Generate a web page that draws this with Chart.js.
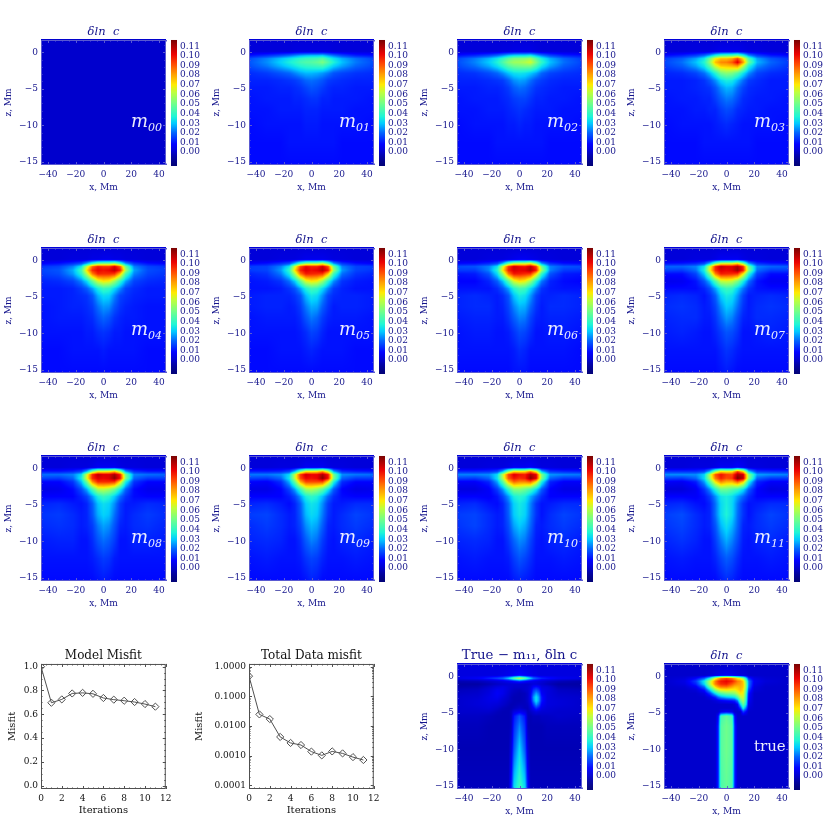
<!DOCTYPE html>
<html>
<head>
<meta charset="utf-8">
<script src="https://cdn.jsdelivr.net/npm/chart.js@4"></script>
<style>
  body { margin: 0; background: #fff; }
  canvas { position: absolute; }
</style>
</head>
<body>
<script>
// tick labels
const xTicks = [-40, -20, 0, 20, 40];
const zTicks = [0, -5, -10, -15];
const barTicks = [0, 0.01, 0.02, 0.03, 0.04, 0.05, 0.06, 0.07, 0.08, 0.09, 0.10, 0.11];
const iterTicks = [0, 2, 4, 6, 8, 10, 12];
const modelTicks = [0, 0.2, 0.4, 0.6, 0.8, 1.0];
const dataTicks = [0.0001, 0.001, 0.01, 0.1, 1];

// misfit curves
const iterations = [0, 1, 2, 3, 4, 5, 6, 7, 8, 9, 10, 11];
const modelMisfit = [1.0, 0.697, 0.725, 0.775, 0.78, 0.772, 0.737, 0.723, 0.714, 0.703, 0.686, 0.664];
const dataMisfit = [0.48, 0.0247, 0.0172, 0.0043, 0.0027, 0.0023, 0.00138, 0.00103, 0.0014, 0.0012, 0.0009, 0.00072];

// grid of the sampled maps (Mm), values below are delta ln c x 1000
const xCols = [-45, -32, -22, -16, -12, -8, -4, 0, 4, 8, 12, 16, 22, 32, 45];
const zRows = [1.6, 0, -0.6, -1, -1.5, -2, -3, -4, -5, -6.5, -8, -10, -12.5, -15.5];
const xColsTrue = [-45, -30, -22, -16, -12, -8, -6, -4, 0, 4, 6, 8, 10, 12, 14, 16, 20, 28, 45];
const zRowsTrue = [1.6, 0, -0.4, -0.8, -1.2, -1.6, -2, -2.5, -3, -3.5, -4, -4.5, -5, -5.6, -7, -10, -15.5];

const m00 = [
  0,0,0,0,0,0,0,0,0,0,0,0,0,0,0, 0,0,0,0,0,0,0,0,0,0,0,0,0,0,0, 0,0,0,0,0,0,0,0,0,0,0,0,0,0,0,
  0,0,0,0,0,0,0,0,0,0,0,0,0,0,0, 0,0,0,0,0,0,0,0,0,0,0,0,0,0,0, 0,0,0,0,0,0,0,0,0,0,0,0,0,0,0,
  0,0,0,0,0,0,0,0,0,0,0,0,0,0,0, 0,0,0,0,0,0,0,0,0,0,0,0,0,0,0, 0,0,0,0,0,0,0,0,0,0,0,0,0,0,0,
  0,0,0,0,0,0,0,0,0,0,0,0,0,0,0, 0,0,0,0,0,0,0,0,0,0,0,0,0,0,0, 0,0,0,0,0,0,0,0,0,0,0,0,0,0,0,
  0,0,0,0,0,0,0,0,0,0,0,0,0,0,0, 0,0,0,0,0,0,0,0,0,0,0,0,0,0,0
];
const m01 = [
  2,2,2,2,2,2,2,2,2,2,2,2,2,2,2,
  2,2,2,2,3,3,3,3,3,3,3,2,2,2,2,
  10,14,18,21,24,27,29,30,30,31,26,22,17,12,10,
  17,23,29,33,36,39,41,42,43,46,39,33,27,21,16,
  18,24,31,36,39,43,45,46,48,52,45,37,29,22,17,
  17,22,28,32,35,38,40,41,42,43,37,31,26,20,16,
  13,15,18,20,23,26,28,28,27,25,22,18,16,14,13,
  12,12,13,14,15,17,20,21,20,18,15,14,13,12,12,
  11,11,12,12,13,14,16,18,17,15,13,12,12,11,11,
  10,11,11,11,12,12,13,14,14,12,12,11,11,11,10,
  10,10,11,11,11,11,12,12,12,11,11,11,11,10,10,
  9,10,10,10,10,10,11,11,11,10,10,10,10,10,9,
  9,9,9,10,10,10,10,10,10,10,10,10,9,9,9,
  9,9,9,9,9,9,9,9,9,9,9,9,9,9,9
];
const m02 = [
  2,2,2,2,2,2,2,2,2,2,2,2,2,2,2,
  2,2,2,2,3,3,4,4,4,4,3,2,2,2,2,
  10,13,17,21,25,30,33,34,34,36,29,23,17,12,10,
  16,22,28,34,40,47,52,53,54,57,46,36,27,20,15,
  17,23,30,37,45,53,57,58,60,64,52,40,29,21,16,
  16,21,27,33,39,46,50,51,52,52,44,34,26,19,15,
  13,14,17,20,24,29,33,34,33,30,26,20,16,14,13,
  12,12,13,14,15,19,24,26,25,21,17,15,13,12,12,
  11,11,12,12,13,15,19,21,20,17,14,13,12,11,11,
  10,11,11,11,12,13,15,16,16,14,12,12,11,11,10,
  10,10,11,11,11,12,13,14,13,12,11,11,11,10,10,
  9,10,10,10,10,11,11,12,11,11,10,10,10,10,9,
  9,9,9,10,10,10,10,10,10,10,10,10,9,9,9,
  9,9,9,9,9,9,9,9,9,9,9,9,9,9,9
];
const m03 = [
  2,2,2,2,2,2,2,2,2,2,2,2,2,2,2,
  2,2,3,3,3,4,5,5,5,5,4,3,3,2,2,
  9,12,16,21,28,38,45,47,48,52,40,25,16,11,9,
  15,19,26,34,50,68,76,76,80,92,72,44,26,18,14,
  16,21,29,38,55,76,84,85,90,104,82,50,28,20,15,
  15,19,26,34,47,65,75,76,78,82,62,38,24,18,14,
  12,13,16,21,28,38,50,54,52,45,34,24,16,13,12,
  11,11,12,14,18,24,32,36,35,28,21,15,13,11,11,
  11,11,12,13,14,18,24,28,27,21,16,13,12,11,11,
  10,11,11,12,12,15,19,22,21,17,13,12,11,11,10,
  10,10,11,11,12,12,15,17,16,13,12,11,11,10,10,
  9,10,10,10,10,11,12,13,12,11,10,10,10,10,9,
  9,9,9,10,10,10,10,10,10,10,10,10,9,9,9,
  9,9,9,9,9,9,9,9,9,9,9,9,9,9,9
];
const m04 = [
  2,2,2,2,2,2,2,2,2,2,2,2,2,2,2,
  2,2,3,3,3,4,4,5,5,4,4,3,3,2,2,
  8,10,14,18,28,42,52,54,54,58,44,26,15,10,8,
  14,16,23,34,62,88,98,95,95,104,90,50,23,16,14,
  16,18,27,42,72,96,102,100,102,108,98,58,26,17,15,
  15,17,25,38,60,85,97,96,96,94,75,44,23,16,14,
  12,13,16,23,32,48,64,70,68,56,40,26,16,13,12,
  11,11,12,15,19,26,36,42,40,32,24,16,13,11,11,
  11,11,12,13,14,18,27,32,31,23,16,14,12,11,11,
  10,11,12,12,13,15,21,25,24,18,14,12,11,10,10,
  10,11,11,11,12,13,17,20,18,14,12,11,11,10,10,
  10,10,10,10,11,11,13,14,13,11,11,10,10,10,10,
  9,9,10,10,10,10,10,11,10,10,10,10,10,9,9,
  9,9,9,9,9,9,9,9,9,9,9,9,9,9,9
];
const m05 = [
  2,2,2,2,2,2,2,2,2,2,2,2,2,2,2,
  2,2,3,3,3,4,5,5,5,5,4,3,3,2,2,
  8,10,14,18,30,46,56,58,58,64,48,26,15,10,8,
  15,16,23,34,64,92,102,98,98,106,92,50,23,16,15,
  15,16,25,40,72,97,104,101,103,109,99,56,25,16,14,
  12,14,22,35,58,86,98,97,96,94,74,42,21,14,12,
  10,11,14,21,30,47,65,70,68,56,38,24,14,11,10,
  10,10,11,14,18,26,37,43,41,32,23,15,12,10,10,
  11,12,12,12,14,18,28,34,32,24,16,13,12,12,11,
  11,12,12,11,12,15,22,27,26,19,14,11,12,12,11,
  10,11,11,11,11,13,18,22,20,15,12,11,11,11,10,
  10,10,10,10,10,11,13,16,15,12,10,10,10,10,10,
  9,9,10,10,10,10,11,12,11,10,10,10,10,9,9,
  9,9,9,9,9,9,9,9,9,9,9,9,9,9,9
];
const m06 = [
  2,2,2,2,2,2,2,2,2,2,2,2,2,2,2,
  2,2,3,3,3,4,5,6,6,5,4,3,3,2,2,
  9,10,13,17,30,50,62,64,64,70,52,26,14,10,9,
  17,18,23,33,64,94,106,102,100,108,94,50,23,18,17,
  15,15,23,38,70,97,105,103,104,110,99,56,23,15,14,
  10,11,18,32,55,85,99,98,96,94,72,40,18,11,10,
  8,8,12,19,29,46,65,71,68,56,37,22,12,9,8,
  10,10,10,13,18,26,38,44,42,32,23,14,11,10,10,
  12,13,12,11,13,18,29,35,33,25,16,12,12,13,12,
  12,13,13,11,12,16,23,28,27,20,14,11,13,13,12,
  11,12,12,11,11,14,19,23,22,16,12,11,12,12,11,
  10,11,11,10,10,11,14,17,16,13,10,10,11,11,10,
  10,10,10,10,10,10,11,13,12,10,10,10,10,10,9,
  9,9,9,9,9,9,10,10,10,9,9,9,9,9,9
];
const m07 = [
  2,2,2,2,2,2,2,2,2,2,2,2,2,2,2,
  2,2,3,3,3,4,6,6,6,6,4,3,3,2,2,
  10,11,13,17,30,52,66,68,68,76,56,27,14,11,10,
  20,20,23,33,64,96,108,104,104,110,97,50,23,20,19,
  16,15,21,36,68,96,104,102,104,112,99,54,21,15,15,
  9,9,16,30,52,84,98,97,96,94,70,38,16,9,9,
  5,6,10,18,28,45,62,64,62,52,36,21,10,6,6,
  9,9,9,12,17,26,37,42,40,31,22,14,10,9,9,
  12,13,12,10,13,19,30,35,33,25,16,11,12,13,12,
  13,14,13,11,12,16,24,30,28,21,14,11,13,14,13,
  12,13,13,11,11,14,20,25,23,17,12,11,13,13,12,
  11,12,11,10,10,12,15,18,17,14,10,10,11,12,11,
  10,10,10,10,10,10,12,14,13,11,10,10,10,10,10,
  9,9,9,9,9,9,10,11,10,9,9,9,9,9,9
];
const m08 = [
  2,2,2,2,2,2,2,2,2,2,2,2,2,2,2,
  2,2,3,3,3,4,6,6,6,6,4,3,3,2,2,
  11,11,13,17,30,54,70,70,72,80,60,27,14,11,11,
  21,21,23,32,64,96,108,104,104,111,98,50,23,21,20,
  16,15,20,35,66,96,104,102,104,114,100,52,20,15,15,
  8,8,14,28,50,82,96,96,96,94,70,36,14,8,8,
  4,5,9,17,27,44,60,62,58,50,35,20,9,5,5,
  8,8,8,12,16,25,36,41,38,30,21,14,9,8,8,
  12,13,11,10,12,19,29,33,31,24,15,11,11,13,12,
  14,15,13,11,12,18,27,31,29,21,14,11,13,15,13,
  13,14,13,11,12,15,22,26,24,18,12,11,13,14,12,
  11,12,12,10,10,13,18,21,19,15,10,10,12,12,11,
  10,10,10,10,10,11,13,15,14,11,10,10,10,10,10,
  9,9,9,9,9,9,10,11,10,9,9,9,9,9,9
];
const m09 = [
  2,2,2,2,2,2,2,2,2,2,2,2,2,2,2,
  2,2,3,3,3,4,6,6,6,6,4,3,3,2,2,
  12,12,13,17,30,54,72,72,74,84,64,28,14,12,11,
  22,22,24,32,62,94,106,102,102,110,99,50,24,22,21,
  16,15,20,34,62,92,102,100,102,114,100,52,20,15,15,
  8,7,13,27,48,78,92,92,92,92,70,36,13,8,8,
  4,4,8,16,26,42,58,60,56,48,34,19,8,4,5,
  8,8,8,11,16,25,36,40,37,29,20,13,9,8,8,
  12,13,11,9,12,19,30,34,32,24,15,11,11,13,13,
  15,16,13,11,12,18,28,32,30,22,14,11,13,16,14,
  13,15,13,11,12,16,24,28,26,19,12,11,13,15,13,
  12,13,12,10,10,13,19,23,21,15,11,10,12,13,11,
  10,11,10,10,10,11,14,16,15,12,10,10,10,11,10,
  9,9,9,9,9,9,10,12,11,9,9,9,9,9,9
];
const m10 = [
  2,2,2,2,2,2,2,2,2,2,2,2,2,2,2,
  2,2,3,3,3,4,6,6,6,7,5,3,3,2,2,
  13,13,14,17,30,56,74,72,74,88,70,30,15,13,12,
  23,23,24,32,62,92,104,100,98,110,103,52,25,23,22,
  16,15,20,33,60,90,100,96,98,114,104,52,20,15,15,
  7,7,12,26,46,74,88,84,84,88,70,36,12,7,7,
  3,3,7,15,25,40,54,54,50,44,33,19,8,4,4,
  8,8,7,10,16,25,36,39,36,27,20,13,8,8,8,
  12,13,10,9,12,20,31,35,32,23,14,10,11,13,13,
  15,16,13,11,12,19,30,34,31,22,14,10,13,16,14,
  14,16,13,11,12,17,26,30,27,20,12,11,13,15,13,
  12,13,12,10,10,14,20,24,22,16,11,10,12,13,11,
  10,11,10,10,10,11,15,18,16,13,10,10,10,11,10,
  9,9,9,9,9,9,11,12,11,10,9,9,9,9,9
];
const m11 = [
  2,2,2,2,2,2,2,2,2,2,2,2,2,2,2,
  2,2,3,3,3,4,6,6,6,8,6,3,3,2,2,
  14,14,14,17,30,56,74,70,72,94,76,32,15,14,13,
  24,24,24,31,60,90,100,94,92,110,106,54,26,24,23,
  16,15,20,32,58,86,98,92,94,116,108,54,20,15,15,
  7,6,11,25,44,70,84,78,78,88,74,36,12,7,7,
  2,2,6,14,24,38,50,50,46,42,33,19,8,3,4,
  8,8,7,10,15,24,34,36,33,26,20,13,8,8,8,
  12,13,10,9,12,21,32,36,32,22,14,10,11,13,13,
  15,17,13,11,12,21,32,37,32,21,14,10,13,16,14,
  14,16,13,11,12,18,28,33,28,20,12,11,13,15,13,
  12,14,12,10,10,15,22,27,23,17,11,10,12,13,11,
  10,11,10,10,10,12,16,19,17,13,10,10,10,11,10,
  9,9,9,9,9,9,11,13,12,10,9,9,9,9,9
];
const trueMinus = [
  3,3,3,3,3,3,3,3,3,3,3,3,3,3,3,3,3,3,3,
  3,3,3,3,4,5,6,7,9,7,6,5,4,4,3,3,3,3,3,
  4,7,12,16,20,30,38,48,62,48,38,30,22,18,15,12,10,6,4,
  -3,-2,0,2,4,6,8,10,14,10,8,6,5,4,3,2,0,-2,-4,
  -5,-5,-3,-1,0,1,1,1,1,0,0,1,2,2,1,0,-2,-5,-5,
  -4,-3,0,3,4,2,1,0,0,0,1,3,8,10,8,3,2,-3,-4,
  -2,-1,2,6,5,2,0,-1,-2,0,1,4,13,17,13,5,3,-1,-2,
  -1,0,3,7,5,1,-1,-2,-3,-2,0,6,18,26,20,7,3,0,-1,
  0,1,4,6,3,0,-2,-3,-3,-2,0,7,24,33,25,10,3,1,0,
  0,2,4,4,1,-1,-2,-3,-3,-2,0,6,22,33,25,10,3,2,0,
  0,2,3,2,0,-2,-3,-3,-2,-2,-1,4,14,25,18,7,3,2,0,
  0,1,2,0,-2,-3,-3,-2,0,-2,-2,2,7,13,9,4,2,1,0,
  0,0,0,-2,-3,-3,-2,3,6,3,-2,-1,1,3,2,1,1,0,0,
  -1,-1,-2,-3,-3,-3,-2,10,18,10,-2,-3,-2,-2,-2,-1,-1,0,-1,
  -2,-2,-3,-3,-3,-3,-2,13,23,13,-2,-3,-3,-3,-3,-3,-2,-2,-2,
  -3,-3,-3,-3,-3,-3,2,18,31,18,2,-3,-3,-3,-3,-3,-3,-3,-3,
  -2,-2,-2,-2,-2,-2,10,32,42,32,10,-2,-2,-2,-2,-2,-2,-2,-2
];
const trueModel = [
  0,0,0,0,0,0,0,0,0,0,0,0,0,0,0,0,0,0,0,
  0,0,0,0,1,3,4,5,6,5,4,3,2,2,1,0,0,0,0,
  0,2,8,18,35,65,75,85,92,85,78,70,65,55,35,12,4,1,0,
  0,4,15,35,60,85,94,99,102,98,92,85,82,75,50,22,6,2,0,
  0,3,12,32,60,85,91,96,98,90,85,82,80,76,55,22,5,1,0,
  0,1,6,20,48,72,80,85,86,80,76,76,78,75,55,20,3,0,0,
  0,0,2,10,30,55,62,68,70,68,68,72,76,72,50,15,2,0,0,
  0,0,0,3,14,32,40,45,50,52,55,62,70,68,45,10,0,0,0,
  0,0,0,0,4,12,20,25,30,32,35,45,60,64,42,8,0,0,0,
  0,0,0,0,0,2,4,6,8,10,12,22,46,58,40,6,0,0,0,
  0,0,0,0,0,0,0,0,0,0,2,8,30,48,35,4,0,0,0,
  0,0,0,0,0,0,0,0,0,0,0,3,14,36,22,2,0,0,0,
  0,0,0,0,0,0,0,5,7,5,0,0,0,15,8,0,0,0,0,
  0,0,0,0,0,0,8,42,48,42,8,0,0,0,0,0,0,0,0,
  0,0,0,0,0,1,12,46,50,46,12,1,0,0,0,0,0,0,0,
  0,0,0,0,0,1,12,46,50,46,12,1,0,0,0,0,0,0,0,
  0,0,0,0,0,1,12,44,48,44,12,1,0,0,0,0,0,0,0
];

const navy = '#14148c';
const frameBlue = '#5a5ad2';
const gray = '#505050';
const serif = 'DejaVu Serif';

// value (x1000) -> colour
const colorStops = [
  [-13.5, 0, 0, 120], [-5, 0, 0, 165], [0, 0, 0, 205], [8, 0, 0, 255], [20, 0, 100, 255],
  [30, 0, 205, 255], [37, 30, 245, 215], [50, 110, 255, 140], [62, 190, 255, 60], [70, 255, 235, 0],
  [82, 255, 150, 0], [92, 255, 70, 0], [102, 235, 0, 0], [116.5, 120, 0, 0]
];

function colorFor(v) {
  if (v <= colorStops[0][0]) return colorStops[0].slice(1);
  for (let i = 1; i < colorStops.length; i++) {
    const b = colorStops[i];
    if (v <= b[0]) {
      const a = colorStops[i - 1];
      const t = (v - a[0]) / (b[0] - a[0]);
      return [a[1] + t * (b[1] - a[1]), a[2] + t * (b[2] - a[2]), a[3] + t * (b[3] - a[3])];
    }
  }
  return colorStops[colorStops.length - 1].slice(1);
}

function addCanvas(left, top, w, h) {
  const c = document.createElement('canvas');
  c.width = w;
  c.height = h;
  c.style.left = left + 'px';
  c.style.top = top + 'px';
  c.style.width = w + 'px';
  c.style.height = h + 'px';
  document.body.appendChild(c);
  return c.getContext('2d');
}

function findCell(list, v) {
  // list can run up or down
  for (let i = 0; i < list.length - 2; i++) {
    if ((v - list[i + 1]) * (list[1] - list[0]) <= 0) return i;
  }
  return list.length - 2;
}

function minorRange(from, to, step) {
  const out = [];
  for (let v = from; v <= to + 1e-9; v += step) out.push(v);
  return out;
}

function drawFrame(chart, color, major, minor) {
  const ctx = chart.ctx;
  const a = chart.chartArea;
  const sx = chart.scales.x;
  const sy = chart.scales.y;
  ctx.save();
  ctx.strokeStyle = color;
  ctx.lineWidth = 1;
  ctx.strokeRect(a.left + 0.5, a.top + 0.5, a.right - a.left - 1, a.bottom - a.top - 1);
  ctx.beginPath();
  const tick = (vals, len) => {
    vals.x.forEach(v => {
      const p = Math.round(sx.getPixelForValue(v)) + 0.5;
      ctx.moveTo(p, a.bottom); ctx.lineTo(p, a.bottom - len);
      ctx.moveTo(p, a.top); ctx.lineTo(p, a.top + len);
    });
    vals.y.forEach(v => {
      const p = Math.round(sy.getPixelForValue(v)) + 0.5;
      ctx.moveTo(a.left, p); ctx.lineTo(a.left + len, p);
      ctx.moveTo(a.right, p); ctx.lineTo(a.right - len, p);
    });
  };
  tick(major, 3);
  tick(minor, 1.5);
  ctx.stroke();
  ctx.restore();
}

function heatPlugin(xs, zs, tag) {
  return {
    id: 'heat',
    beforeDatasetsDraw(chart) {
      const a = chart.chartArea;
      const sx = chart.scales.x;
      const sy = chart.scales.y;
      const pts = chart.data.datasets[0].data;
      const w = a.right - a.left;
      const h = a.bottom - a.top;
      const img = chart.ctx.createImageData(w, h);
      const nx = xs.length;
      for (let py = 0; py < h; py++) {
        const z = sy.getValueForPixel(a.top + py + 0.5);
        const r = findCell(zs, z);
        const tz = (z - zs[r]) / (zs[r + 1] - zs[r]);
        for (let px = 0; px < w; px++) {
          const x = sx.getValueForPixel(a.left + px + 0.5);
          const c = findCell(xs, x);
          const tx = (x - xs[c]) / (xs[c + 1] - xs[c]);
          const top = pts[r * nx + c].v * (1 - tx) + pts[r * nx + c + 1].v * tx;
          const bot = pts[(r + 1) * nx + c].v * (1 - tx) + pts[(r + 1) * nx + c + 1].v * tx;
          const rgb = colorFor(top * (1 - tz) + bot * tz);
          const i = (py * w + px) * 4;
          img.data[i] = rgb[0];
          img.data[i + 1] = rgb[1];
          img.data[i + 2] = rgb[2];
          img.data[i + 3] = 255;
        }
      }
      chart.ctx.putImageData(img, a.left, a.top);
    },
    afterDraw(chart) {
      const ctx = chart.ctx;
      const a = chart.chartArea;
      const bar = chart.scales.c;
      drawFrame(chart, frameBlue,
        { x: xTicks, y: zTicks },
        { x: minorRange(-45, 45, 5), y: minorRange(-15, 1, 1) });
      // colour bar
      for (let py = a.top; py < a.bottom; py++) {
        const rgb = colorFor(bar.getValueForPixel(py + 0.5) * 1000);
        ctx.fillStyle = `rgb(${rgb[0]},${rgb[1]},${rgb[2]})`;
        ctx.fillRect(a.right + 5, py, 6, 1);
      }
      // panel tag
      ctx.save();
      ctx.fillStyle = 'rgba(255,255,255,0.92)';
      ctx.textBaseline = 'alphabetic';
      if (tag === 'true') {
        ctx.font = '15px "DejaVu Serif"';
        ctx.fillText('true', a.left + 90, a.top + 87);
      } else if (tag) {
        ctx.font = 'italic 18px "DejaVu Serif"';
        ctx.fillText('m', a.left + 90, a.top + 87);
        ctx.font = 'italic 11px "DejaVu Serif"';
        ctx.fillText(tag, a.left + 107, a.top + 91);
      }
      ctx.restore();
    }
  };
}

function fixedAxisFont() {
  return { family: serif, size: 9 };
}

function heatPanel(col, row, values, xs, zs, tag, title) {
  const lefts = [0, 208, 416, 623];
  const ctx = addCanvas(lefts[col], row * 208, 207, 196);
  const points = [];
  zs.forEach((z, r) => xs.forEach((x, c) => {
    points.push({ x: x, y: z, v: values[r * xs.length + c] });
  }));
  new Chart(ctx, {
    type: 'scatter',
    data: { datasets: [{ data: points, pointRadius: 0, showLine: false }] },
    options: {
      responsive: false,
      animation: false,
      layout: { padding: { top: 24 } },
      plugins: {
        legend: { display: false },
        tooltip: { enabled: false },
        title: {
          display: true,
          fullSize: false,
          text: title || 'δln  c',
          color: navy,
          font: title
            ? { family: serif, size: 13.3, weight: 'normal', lineHeight: 1.2 }
            : { family: serif, size: 11.5, style: 'italic', weight: 'normal', lineHeight: 1.39 },
          padding: 0
        }
      },
      scales: {
        x: {
          type: 'linear', min: -45, max: 45,
          grid: { display: false, drawTicks: false },
          border: { display: false },
          afterBuildTicks: s => { s.ticks = xTicks.map(v => ({ value: v })); },
          afterFit: s => { s.height = 31; },
          ticks: { color: navy, font: fixedAxisFont(), padding: 4.5, maxRotation: 0, autoSkip: false,
            callback: v => String(v).replace('-', '−') },
          title: { display: true, text: 'x, Mm', color: navy, font: fixedAxisFont(), padding: { top: 0, bottom: 3 } }
        },
        y: {
          type: 'linear', min: -15.45, max: 1.69,
          grid: { display: false, drawTicks: false },
          border: { display: false },
          afterBuildTicks: s => { s.ticks = zTicks.map(v => ({ value: v })); },
          afterFit: s => { s.width = 41; },
          ticks: { color: navy, font: fixedAxisFont(), padding: 3, maxRotation: 0, autoSkip: false,
            callback: v => String(v).replace('-', '−') },
          title: { display: true, text: 'z, Mm', color: navy, font: fixedAxisFont(), padding: { top: 3.6, bottom: 0 } }
        },
        c: {
          type: 'linear', position: 'right', min: -0.0135, max: 0.1165,
          grid: { display: false, drawTicks: false },
          border: { display: false },
          afterBuildTicks: s => { s.ticks = barTicks.map(v => ({ value: v })); },
          afterFit: s => { s.width = 41; },
          ticks: { color: navy, font: fixedAxisFont(), padding: 14, autoSkip: false,
            callback: v => v.toFixed(2) }
        }
      }
    },
    plugins: [heatPlugin(xs, zs, tag)]
  });
}

function linePanel(left, yWidth, labelPad, title, values, yOpts, yTicks, yFormat, yMinor) {
  const ctx = addCanvas(left, 624, 176 + (yWidth - 41), 196);
  const labelFont = { family: serif, size: 10 };
  new Chart(ctx, {
    type: 'line',
    data: {
      labels: iterations,
      datasets: [{
        data: iterations.map((x, i) => ({ x: x, y: values[i] })),
        borderColor: gray,
        borderWidth: 1,
        backgroundColor: 'rgba(0,0,0,0)',
        pointStyle: 'rectRot',
        pointRadius: 3.6,
        pointBorderColor: gray,
        pointBorderWidth: 1,
        pointBackgroundColor: 'rgba(0,0,0,0)',
        tension: 0
      }]
    },
    options: {
      responsive: false,
      animation: false,
      layout: { padding: { top: 24, right: 10 } },
      plugins: {
        legend: { display: false },
        tooltip: { enabled: false },
        title: {
          display: true,
          fullSize: false,
          text: title,
          color: '#111',
          font: { family: serif, size: 12, weight: 'normal', lineHeight: 1.33 },
          padding: 0
        }
      },
      scales: {
        x: {
          type: 'linear', min: 0, max: 12,
          grid: { display: false, drawTicks: false },
          border: { display: false },
          afterBuildTicks: s => { s.ticks = iterTicks.map(v => ({ value: v })); },
          afterFit: s => { s.height = 31; },
          ticks: { color: '#111', font: fixedAxisFont(), padding: 4.5, maxRotation: 0, autoSkip: false },
          title: { display: true, text: 'Iterations', color: '#111', font: labelFont, padding: { top: 0, bottom: 3.3 } }
        },
        y: Object.assign({
          grid: { display: false, drawTicks: false },
          border: { display: false },
          afterBuildTicks: s => { s.ticks = yTicks.map(v => ({ value: v })); },
          afterFit: s => { s.width = yWidth; },
          ticks: { color: '#111', font: fixedAxisFont(), padding: 3, autoSkip: false, callback: yFormat },
          title: { display: true, text: 'Misfit', color: '#111', font: labelFont, padding: { top: labelPad, bottom: 0 } }
        }, yOpts)
      }
    },
    plugins: [{
      id: 'frame',
      afterDraw(chart) {
        drawFrame(chart, gray, { x: iterTicks, y: yTicks }, { x: minorRange(0, 12, 0.5), y: yMinor });
      }
    }]
  });
}

// maps, row by row
heatPanel(0, 0, m00, xCols, zRows, '00');
heatPanel(1, 0, m01, xCols, zRows, '01');
heatPanel(2, 0, m02, xCols, zRows, '02');
heatPanel(3, 0, m03, xCols, zRows, '03');
heatPanel(0, 1, m04, xCols, zRows, '04');
heatPanel(1, 1, m05, xCols, zRows, '05');
heatPanel(2, 1, m06, xCols, zRows, '06');
heatPanel(3, 1, m07, xCols, zRows, '07');
heatPanel(0, 2, m08, xCols, zRows, '08');
heatPanel(1, 2, m09, xCols, zRows, '09');
heatPanel(2, 2, m10, xCols, zRows, '10');
heatPanel(3, 2, m11, xCols, zRows, '11');
heatPanel(2, 3, trueMinus, xColsTrue, zRowsTrue, '', 'True − m₁₁, δln c');
heatPanel(3, 3, trueModel, xColsTrue, zRowsTrue, 'true');

// misfit plots
const logMinor = [];
dataTicks.slice(0, 4).forEach(d => [2, 3, 4, 5, 6, 7, 8, 9].forEach(k => logMinor.push(d * k)));
linePanel(0, 41, 6.6, 'Model Misfit', modelMisfit,
  { type: 'linear', min: -0.028, max: 1.023 }, modelTicks, v => v.toFixed(1), minorRange(0, 1, 0.05));
linePanel(185, 64, 8.6, 'Total Data misfit', dataMisfit,
  { type: 'logarithmic', min: 0.000076, max: 1.233 }, dataTicks, v => v.toFixed(4), logMinor);
</script>
</body>
</html>
